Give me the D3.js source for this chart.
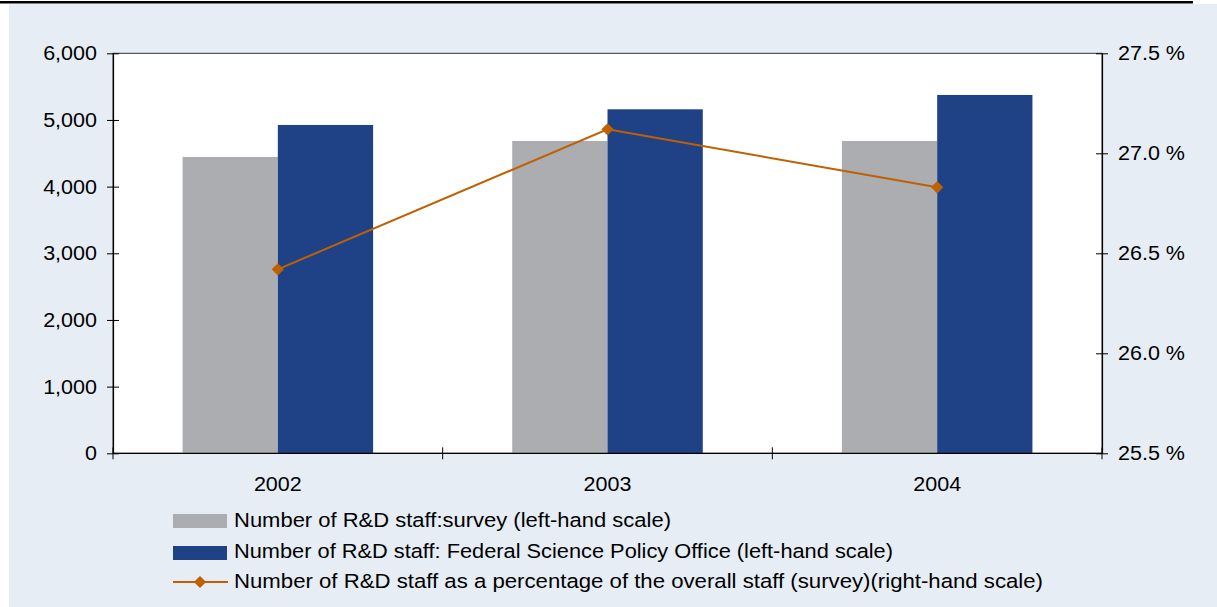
<!DOCTYPE html>
<html><head><meta charset="utf-8">
<script src="https://cdn.jsdelivr.net/npm/d3@7"></script>
<style>body{margin:0;background:#fff}svg{display:block}text{font-family:"Liberation Sans",Arial,sans-serif;fill:#000}</style>
</head><body>
<svg id="c" width="1217" height="607"></svg>
<script>
const years = ["2002", "2003", "2004"];
const surveyStaff = [4445, 4685, 4685];
const fspoStaff = [4925, 5160, 5375];
const pctStaff = [26.42, 27.12, 26.83];
const leftTicks = [0, 1000, 2000, 3000, 4000, 5000, 6000];
const rightTicks = [25.5, 26.0, 26.5, 27.0, 27.5];
const legendLabels = [
  "Number of R&D staff:survey (left-hand scale)",
  "Number of R&D staff: Federal Science Policy Office (left-hand scale)",
  "Number of R&D staff as a percentage of the overall staff (survey)(right-hand scale)"
];

const svg = d3.select("#c");
const W = 1217, H = 607;
const L = 113, R = 1102, T = 53.3, B = 453.3;
const GRAY = "#acadb1", BLUE = "#1f4287", ORANGE = "#c06000";
const FS = "20.5px";

svg.append("rect").attr("x", 9).attr("y", 4).attr("width", W - 9).attr("height", H - 4).attr("fill", "#e6edf4");
svg.append("rect").attr("x", 0).attr("y", 1).attr("width", 1193).attr("height", 2.5).attr("fill", "#000");
svg.append("rect").attr("x", L).attr("y", T).attr("width", R - L).attr("height", B - T).attr("fill", "#fff").attr("stroke", "#333").attr("stroke-width", 1);

const x = d3.scaleBand().domain(years).range([L, R]).padding(0);
const yL = d3.scaleLinear().domain([0, 6000]).range([B, T]);
const yR = d3.scaleLinear().domain([25.5, 27.5]).range([B, T]);
const groupW = x.bandwidth() * 0.578;
const xs = d3.scaleBand().domain(["s", "f"]).range([0, groupW]).padding(0);
const gx = d => x(d) + (x.bandwidth() - groupW) / 2;

svg.append("g").selectAll("rect").data(years).join("rect")
  .attr("x", d => gx(d) + xs("s")).attr("width", xs.bandwidth())
  .attr("y", (d, i) => yL(surveyStaff[i])).attr("height", (d, i) => B - yL(surveyStaff[i]))
  .attr("fill", GRAY);
svg.append("g").selectAll("rect").data(years).join("rect")
  .attr("x", d => gx(d) + xs("f")).attr("width", xs.bandwidth())
  .attr("y", (d, i) => yL(fspoStaff[i])).attr("height", (d, i) => B - yL(fspoStaff[i]))
  .attr("fill", BLUE);

const cx = d => x(d) + x.bandwidth() / 2;
const line = d3.line().x((d, i) => cx(years[i])).y(d => yR(d));
svg.append("path").datum(pctStaff).attr("d", line).attr("fill", "none").attr("stroke", ORANGE).attr("stroke-width", 2);
svg.append("g").selectAll("path").data(pctStaff).join("path")
  .attr("transform", (d, i) => `translate(${cx(years[i])},${yR(d)}) rotate(45)`)
  .attr("d", d3.symbol().type(d3.symbolSquare).size(75)).attr("fill", ORANGE);

// Axes
const stretch = (sel, k) => sel.each(function () {
  const w = this.getComputedTextLength();
  d3.select(this).attr("textLength", w * k).attr("lengthAdjust", "spacingAndGlyphs");
});
const axStyle = g => {
  g.select(".domain").attr("stroke", "#000").attr("stroke-width", 1.2);
  g.selectAll(".tick line").attr("stroke", "#000");
  g.selectAll(".tick text").style("font-size", FS).style("font-family", "'Liberation Sans',Arial,sans-serif");
  stretch(g.selectAll(".tick text"), 1.05);
};
const la = svg.append("g").attr("transform", `translate(${L},0)`)
  .call(d3.axisLeft(yL).tickValues(leftTicks).tickFormat(d3.format(",")).tickSize(6).tickSizeOuter(0));
la.selectAll(".tick text").attr("x", -16);
axStyle(la);
la.selectAll(".tick line").attr("x2", -6).attr("x1", 6);

const ra = svg.append("g").attr("transform", `translate(${R},0)`)
  .call(d3.axisRight(yR).tickValues(rightTicks).tickFormat(d => d3.format(".1f")(d) + " %").tickSize(6).tickSizeOuter(0));
ra.selectAll(".tick text").attr("x", 16);
axStyle(ra);
ra.selectAll(".tick line").attr("x1", -6).attr("x2", 6);

const bounds = [L, ...years.map(d => x(d) + x.bandwidth())];
const xa = svg.append("g").attr("transform", `translate(0,${B})`)
  .call(d3.axisBottom(x).tickSize(0).tickPadding(23));
axStyle(xa);
xa.select(".domain").attr("d", `M${L},0H${R}`);
svg.append("g").selectAll("line").data(bounds).join("line")
  .attr("x1", d => d).attr("x2", d => d).attr("y1", B - 6).attr("y2", B + 6).attr("stroke", "#000");

// Legend
const lg = svg.append("g");
const swY = [521, 553, 582];
const txtY = [527, 557.5, 588];
const txtW = [437, 659, 809];
lg.append("rect").attr("x", 173).attr("y", swY[0] - 7).attr("width", 54).attr("height", 14).attr("fill", GRAY);
lg.append("rect").attr("x", 173).attr("y", swY[1] - 7).attr("width", 54).attr("height", 14).attr("fill", BLUE);
lg.append("line").attr("x1", 173).attr("x2", 228).attr("y1", swY[2]).attr("y2", swY[2]).attr("stroke", ORANGE).attr("stroke-width", 2);
lg.append("path").attr("transform", `translate(200,${swY[2]}) rotate(45)`).attr("d", d3.symbol().type(d3.symbolSquare).size(75)).attr("fill", ORANGE);
lg.selectAll("text").data(legendLabels).join("text")
  .attr("x", 234).attr("y", (d, i) => txtY[i])
  .attr("textLength", (d, i) => txtW[i]).attr("lengthAdjust", "spacingAndGlyphs")
  .style("font-size", FS).text(d => d);
</script>
</body></html>
